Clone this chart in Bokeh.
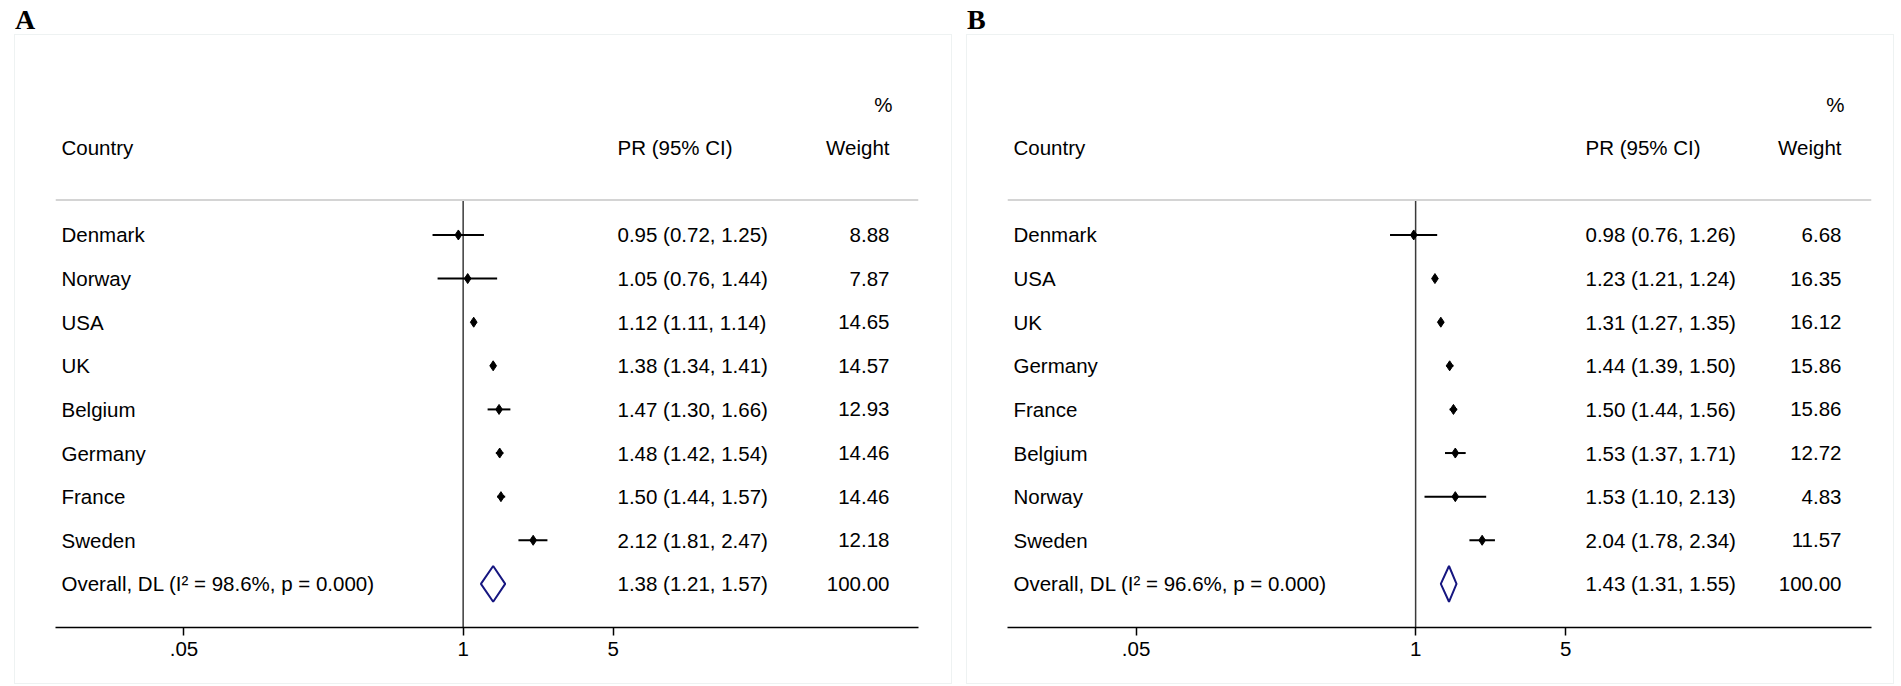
import math
from bokeh.plotting import figure
from bokeh.models import Range1d, FixedTicker, CustomJSTickFormatter, Span, Div, ColumnDataSource
from bokeh.layouts import row, column
from bokeh.core.properties import value
from bokeh.embed import file_html
from bokeh.resources import INLINE

# ---------------- data ----------------
countries_a = ["Denmark", "Norway", "USA", "UK", "Belgium", "Germany", "France", "Sweden"]
pr_a = [0.95, 1.05, 1.12, 1.38, 1.47, 1.48, 1.50, 2.12]
lo_a = [0.72, 0.76, 1.11, 1.34, 1.30, 1.42, 1.44, 1.81]
hi_a = [1.25, 1.44, 1.14, 1.41, 1.66, 1.54, 1.57, 2.47]
weight_a = [8.88, 7.87, 14.65, 14.57, 12.93, 14.46, 14.46, 12.18]
overall_a = [1.38, 1.21, 1.57]
i2_a = 98.6
p_a = 0.000

countries_b = ["Denmark", "USA", "UK", "Germany", "France", "Belgium", "Norway", "Sweden"]
pr_b = [0.98, 1.23, 1.31, 1.44, 1.50, 1.53, 1.53, 2.04]
lo_b = [0.76, 1.21, 1.27, 1.39, 1.44, 1.37, 1.10, 1.78]
hi_b = [1.26, 1.24, 1.35, 1.50, 1.56, 1.71, 2.13, 2.34]
weight_b = [6.68, 16.35, 16.12, 15.86, 15.86, 12.72, 4.83, 11.57]
overall_b = [1.43, 1.31, 1.55]
i2_b = 96.6
p_b = 0.000

tick_values = [0.05, 1, 5]
NULL_VALUE = 1

FONT = "Liberation Sans"
FS = "20.5px"
X_LO, X_HI = 0.0126, 132.4
FIG_H = 648
MB_TOP = 25
MB_BOTTOM = FIG_H - MB_TOP - 567


def panel(letter, countries, pr, lo, hi, weight, overall, i2, pval,
          fig_w, mb_left, mb_right, fig_margin_left, pr_off):
    frame_w = fig_w - mb_left - mb_right
    ppl = frame_w / math.log(X_HI / X_LO)

    def px2x(off):
        return X_LO * math.exp(off / ppl)

    p = figure(width=fig_w, height=FIG_H, x_axis_type="log",
               x_range=Range1d(X_LO, X_HI), y_range=Range1d(9, -4),
               output_backend="svg", toolbar_location=None,
               min_border_left=mb_left, min_border_right=mb_right,
               min_border_top=MB_TOP, min_border_bottom=MB_BOTTOM,
               y_axis_location=None)
    p.margin = (0, 0, 0, fig_margin_left)
    p.styles = {"outline": "1px solid #eef2f2"}
    p.grid.visible = False
    p.outline_line_color = None
    p.background_fill_color = "white"
    p.border_fill_color = "white"

    ax = p.xaxis[0]
    ax.ticker = FixedTicker(ticks=tick_values)
    ax.formatter = CustomJSTickFormatter(code="return tick < 1 ? String(tick).replace(/^0/, '') : String(tick);")
    ax.major_tick_out = 8
    ax.major_tick_in = 0
    ax.minor_tick_line_color = None
    ax.axis_line_width = 1.5
    ax.axis_line_color = "black"
    ax.major_tick_line_color = "black"
    ax.major_tick_line_width = 1.5
    ax.major_label_text_font = FONT
    ax.major_label_text_font_size = FS
    ax.major_label_text_color = "black"
    ax.major_label_standoff = 6

    n = len(countries)
    rows = list(range(n))

    # header line
    p.add_layout(Span(location=-0.8, dimension="width", line_color="#d4d4d4", line_width=2))
    # null line
    p.segment(x0=[NULL_VALUE], x1=[NULL_VALUE], y0=[-0.8], y1=[n + 1], line_color="#3a3a3a", line_width=1.5)

    src = ColumnDataSource(dict(y=rows, pr=pr, lo=lo, hi=hi))
    p.segment(x0="lo", x1="hi", y0="y", y1="y", source=src, line_color="black", line_width=2)
    p.scatter(x="pr", y="y", source=src, marker="diamond", size=10, color="black")

    est, olo, ohi = overall
    yo = n
    p.patch(x=[olo, est, ohi, est, olo], y=[yo, yo - 0.41, yo, yo + 0.41, yo],
            fill_color=None, line_color="#161680", line_width=2)

    # text columns
    x_country = px2x(6)
    x_pr = px2x(pr_off)
    x_w = px2x(834)
    x_pct = px2x(837)

    labels = countries + [f"Overall, DL (I\u00b2 = {i2:.1f}%, p = {pval:.3f})"]
    prs = [f"{e:.2f} ({l:.2f}, {h:.2f})" for e, l, h in zip(pr + [est], lo + [olo], hi + [ohi])]
    ws = [f"{w:.2f}" for w in weight + [100.0]]
    ys = list(range(n + 1))

    common = dict(text_font=value(FONT), text_font_size=FS, text_color="black", text_baseline="middle")
    p.text(x=[x_country] * (n + 1), y=ys, text=labels, text_align="left", **common)
    p.text(x=[x_pr] * (n + 1), y=ys, text=prs, text_align="left", **common)
    p.text(x=[x_w] * (n + 1), y=ys, text=ws, text_align="right", **common)

    p.text(x=[x_country], y=[-2], text=["Country"], text_align="left", **common)
    p.text(x=[x_pr], y=[-2], text=["PR (95% CI)"], text_align="left", **common)
    p.text(x=[x_w], y=[-2], text=["Weight"], text_align="right", **common)
    p.text(x=[x_pct], y=[-3], text=["%"], text_align="right", **common)

    d = Div(text=letter, width=fig_w, height=27, margin=(0, 0, 0, fig_margin_left),
            styles={"font-family": "Liberation Serif", "font-size": "28px", "font-weight": "bold",
                    "line-height": "24px", "color": "black"})
    return column(d, p, spacing=0)


colA = panel("A", countries_a, pr_a, lo_a, hi_a, weight_a, overall_a, i2_a, p_a,
             fig_w=936, mb_left=40, mb_right=33, fig_margin_left=7, pr_off=562)
colB = panel("B", countries_b, pr_b, lo_b, hi_b, weight_b, overall_b, i2_b, p_b,
             fig_w=926, mb_left=40, mb_right=22, fig_margin_left=16, pr_off=578)

layout = row(colA, colB, spacing=0, margin=(8, 0, 0, 8))
open("out.html", "w").write(file_html(layout, INLINE))
